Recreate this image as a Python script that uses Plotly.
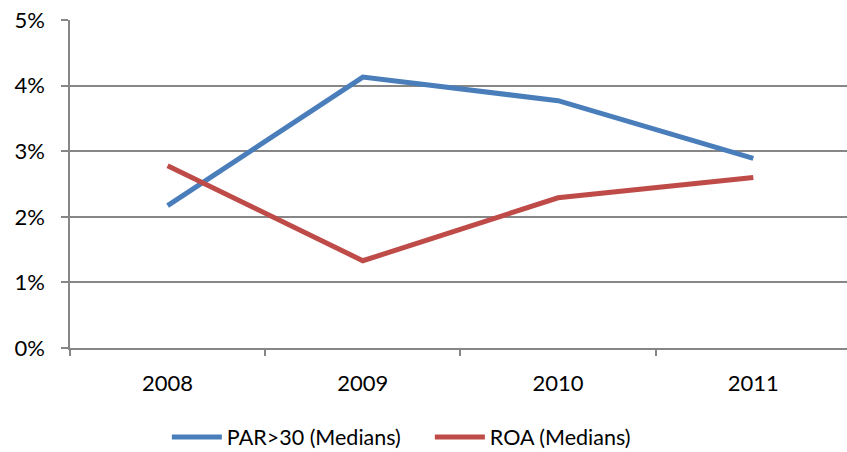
import plotly.graph_objects as go

years = ["2008", "2009", "2010", "2011"]
par30 = [2.17, 4.13, 3.77, 2.89]
roa = [2.78, 1.33, 2.29, 2.60]
y_ticks = [0, 1, 2, 3, 4, 5]
y_labels = ["0%", "1%", "2%", "3%", "4%", "5%"]

FONT = "Lato"
GRID = "#868686"

fig = go.Figure()
fig.add_trace(go.Scatter(x=years, y=par30, mode="lines", name="PAR>30 (Medians)",
                         line=dict(color="#4A7EBB", width=5)))
fig.add_trace(go.Scatter(x=years, y=roa, mode="lines", name="ROA (Medians)",
                         line=dict(color="#BE4B48", width=5)))

fig.update_layout(
    width=847, height=452,
    margin=dict(l=70, r=0, t=19.5, b=104, autoexpand=False),
    paper_bgcolor="white", plot_bgcolor="white",
    font=dict(family=FONT, size=22, color="#000000"),
    showlegend=True,
    legend=dict(orientation="h", xref="container", yref="container",
                x=0.197, xanchor="left", y=0.033, yanchor="middle",
                font=dict(family=FONT, size=21.5), itemwidth=50, tracegroupgap=0,
                entrywidth=198, entrywidthmode="pixels"),
)
fig.update_xaxes(
    type="category", range=[-0.5, 3.48], automargin=False,
    showline=True, linecolor=GRID, linewidth=1.5,
    ticks="outside", tickson="boundaries", ticklen=6, tickcolor=GRID, tickwidth=1.5,
    showgrid=False, ticklabelstandoff=15,
    tickfont=dict(family=FONT, size=22),
)
fig.update_yaxes(
    range=[0, 5], tickvals=y_ticks, ticktext=y_labels, automargin=False,
    showline=True, linecolor=GRID, linewidth=1.5,
    ticks="outside", ticklen=7, tickcolor=GRID, tickwidth=1.5,
    showgrid=True, gridcolor=GRID, gridwidth=1.5, zeroline=False,
    ticklabelstandoff=12,
    tickfont=dict(family=FONT, size=22),
)

fig.write_html(
    "out.html",
    config={"displayModeBar": False},
    post_script="document.body.style.margin='0';document.body.style.overflow='hidden';"
                "document.documentElement.style.overflow='hidden';",
)
